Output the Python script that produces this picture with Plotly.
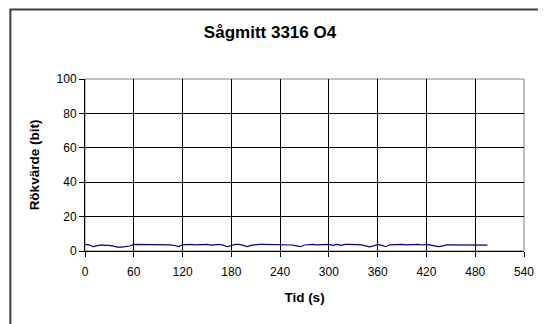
import plotly.graph_objects as go

# time (s) and smoke value
tid = [0, 5, 10, 15, 20, 25, 30, 35, 40, 45, 50, 55, 60, 65, 70, 75, 80, 85, 90, 95,
       100, 105, 110, 115, 120, 125, 130, 135, 140, 145, 150, 155, 160, 165, 170, 175, 180, 185, 190, 195,
       200, 205, 210, 215, 220, 225, 230, 235, 240, 245, 250, 255, 260, 265, 270, 275, 280, 285, 290, 295,
       300, 305, 310, 315, 320, 325, 330, 335, 340, 345, 350, 355, 360, 365, 370, 375, 380, 385, 390, 395,
       400, 405, 410, 415, 420, 425, 430, 435, 440, 445, 450, 455, 460, 465, 470, 475, 480, 485, 490, 495]
rokvarde = [3.8, 3.6, 2.6, 3.2, 3.6, 3.3, 3.3, 2.8, 2.3, 2.3, 2.5, 2.9, 3.8, 3.8, 3.8, 3.5, 3.8, 3.8, 3.4, 3.8,
            3.8, 3.6, 3.2, 2.6, 3.6, 3.8, 3.8, 3.6, 3.8, 3.8, 3.8, 3.4, 3.8, 3.8, 3.4, 2.5, 3.2, 3.8, 3.8, 3.4,
            2.6, 3.4, 3.8, 3.8, 3.8, 3.8, 3.6, 3.8, 3.8, 3.8, 3.8, 3.5, 3.0, 2.5, 3.5, 3.8, 3.8, 3.6, 3.8, 3.8,
            3.8, 3.3, 3.8, 3.3, 3.8, 3.8, 3.8, 3.8, 3.6, 3.0, 2.4, 3.0, 3.8, 3.3, 2.5, 3.6, 3.8, 3.8, 3.8, 3.6,
            3.8, 3.8, 3.8, 3.5, 3.8, 3.4, 2.8, 2.5, 3.0, 3.6, 3.6, 3.6, 3.6, 3.8, 3.8, 3.8, 3.8, 3.8, 3.5, 3.4]

x_ticks = [0, 60, 120, 180, 240, 300, 360, 420, 480, 540]
y_ticks = [0, 20, 40, 60, 80, 100]

font = "Liberation Sans, Arial, sans-serif"

fig = go.Figure(go.Scatter(x=tid, y=rokvarde, mode="lines",
                           line=dict(color="#000080", width=1.2), showlegend=False))

# the page body has an 8px margin, so the figure is 8px smaller and margins shifted
fig.update_layout(
    width=538, height=316,
    margin=dict(l=77, r=17, t=71, b=73),
    paper_bgcolor="white", plot_bgcolor="white",
    font=dict(family=font, size=12, color="black"),
    title=dict(text="<b>Sågmitt 3316 O4</b>", x=0.487, xref="container", xanchor="center",
               y=0.924, yref="container", yanchor="middle", font=dict(size=17)),
    xaxis=dict(range=[0, 540], tickvals=x_ticks, showgrid=True, gridcolor="black", gridwidth=1,
               showline=True, linecolor="black", linewidth=1, ticks="outside", ticklen=5,
               tickcolor="black", zeroline=False, ticklabelstandoff=5,
               title=dict(text="<b>Tid (s)</b>", font=dict(size=13.5), standoff=14)),
    yaxis=dict(range=[0, 100], tickvals=y_ticks, showgrid=True, gridcolor="black", gridwidth=1,
               showline=True, linecolor="black", linewidth=1, ticks="outside", ticklen=5,
               tickcolor="black", zeroline=False,
               title=dict(text="<b>Rökvärde (bit)</b>", font=dict(size=13.5), standoff=13)),
)

# grey plot-area frame and outer chart border
fig.add_shape(type="rect", xref="paper", yref="paper", x0=0, x1=1, y0=0, y1=1,
              line=dict(color="#808080", width=1), layer="below")
fig.add_shape(type="rect", xref="paper", yref="paper", x0=-0.17, x1=1.3, y0=-0.6, y1=1.404,
              line=dict(color="#404040", width=2), layer="above")

fig.write_html("out.html")
